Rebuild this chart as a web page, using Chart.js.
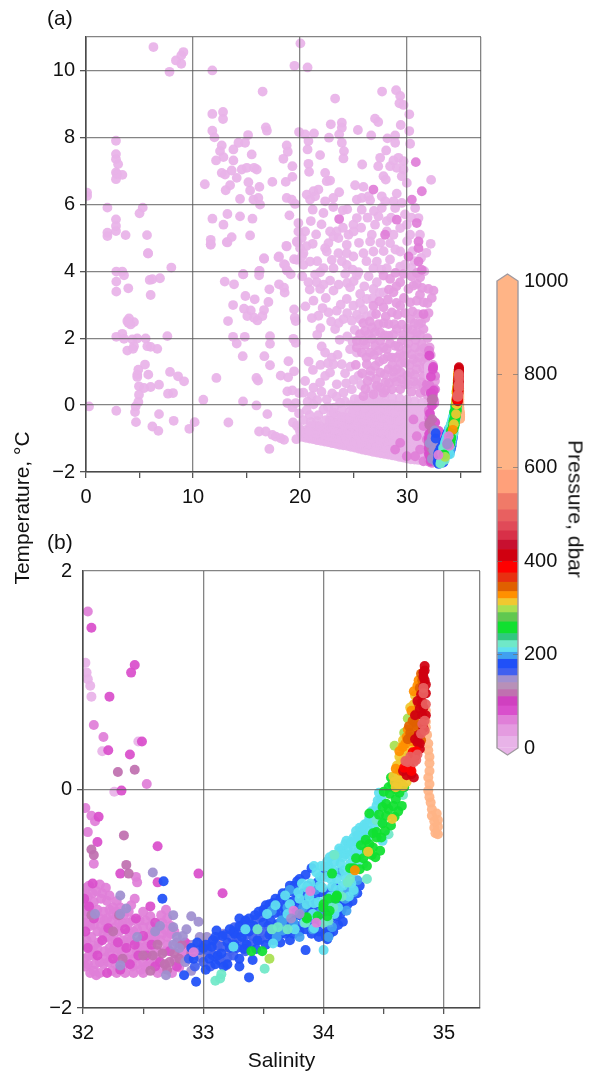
<!DOCTYPE html>
<html>
<head>
<meta charset="utf-8">
<title>T-S diagram</title>
<script src="https://cdn.jsdelivr.net/npm/chart.js@4/dist/chart.umd.min.js"></script>
<style>
  html, body { margin: 0; background: #fff; }
  #page { position: relative; width: 590px; height: 1074px; overflow: hidden; font-family: "Liberation Sans", sans-serif; color: #111; }
  canvas { position: absolute; }
  .lbl { position: absolute; font-size: 21px; white-space: nowrap; line-height: 1; }
  .rot { transform: translate(-50%, -50%) rotate(-90deg); }
  .rotr { transform: translate(-50%, -50%) rotate(90deg); }
</style>
</head>
<body>
<div id="page">
  <canvas id="panelA" width="490" height="520" style="left:0;top:0"></canvas>
  <canvas id="panelB" width="490" height="554" style="left:0;top:520px"></canvas>
  <canvas id="bar" width="100" height="510" style="left:490px;top:260px"></canvas>
  <div class="lbl" style="left:47px;top:7px">(a)</div>
  <div class="lbl" style="left:47px;top:531px">(b)</div>
  <div class="lbl rot" style="left:21px;top:508px">Temperature, °C</div>
  <div class="lbl rotr" style="left:576px;top:509px">Pressure, dbar</div>
</div>
<script>
// colour bar levels, pressure in dbar
const levelEdges = [0, 25, 50, 70, 90, 110, 125, 140, 155, 170, 190, 205, 215, 230, 245, 270, 290, 305, 320, 335, 355, 375, 400, 425, 445, 465, 485, 510, 545, 595, 1000];
const levelColors = ['#e8b3e8', '#e49be0', '#e07fd8', '#d94fcc', '#d040c0', '#c070b0', '#b890b8', '#a090d0', '#4060f0', '#2050f8',
  '#40a0f0', '#60e0f0', '#70e8c8', '#30c880', '#10e030', '#60c850', '#a8e050', '#f0c830', '#ff9000', '#e06000',
  '#e83010', '#ff0000', '#d00010', '#c81030', '#d83048', '#e04a58', '#e86060', '#f07a68', '#ffa07a', '#ffb486'];
const barTicks = [0, 200, 400, 600, 800, 1000];

// axis ticks, the last entry of each closes the frame
const aSalTicks = [0, 5, 10, 15, 20, 25, 30, 35, 36.9];
const aTempTicks = [-2, 0, 2, 4, 6, 8, 10, 11];
const bSalTicks = [32, 32.5, 33, 33.5, 34, 34.5, 35, 35.3];
const bTempTicks = [-2, 0, 2];

// panel (a) only: fresh water part, salinity / temperature
const aNorthWest = [[6.3,10.7],[9.1,10.55],[8.4,10.3],[8.9,10.2],[8.9,10.45],[7.8,9.96],[11.8,10],[16.5,9.37],[11.8,8.7],[12.8,8.76],[12.8,8.55],[16.8,8.3],[16.9,8.2],[11.8,8.2],[12,8],[2.8,7.9],[2.8,7.5],[2.8,7.35],[3,7.2],[2.8,6.95],[2.8,6.75],[3.4,6.88],[2.9,6.9],[0.1,6.35],[0.1,6.25],[2,5.9],[5.3,5.9],[5,5.73],[2.8,5.55],[2.8,5.35],[2.8,5.2],[2,5.15],[2,5.05],[3.7,5.08],[5.7,5.08],[5.8,4.53],[11.1,6.6]];
const aNorthEast = [[20.03,10.81],[19.47,10.14],[20.7,10.09],[23.27,9.16],[27.66,9.37],[28.97,9.41],[29.35,9.24],[29.28,9.02],[29.66,8.97],[30.2,8.69],[15.14,8.07],[14.86,7.84],[14.24,7.84],[13.77,7.64],[12.68,7.76],[12.52,7.59],[12.84,7.41],[12.15,7.31],[13.77,7.31],[15.48,7.49],[18.75,7.76],[18.85,7.57],[18.44,7.36],[19.28,7.14],[19.9,8.16],[20.47,8.09],[21.3,8.12],[20.78,7.89],[20.7,7.64],[21.87,7.47],[20.78,7.21],[20.84,6.97],[22.87,8.39],[23.9,8.44],[23.9,8.29],[23.65,8.09],[22.7,7.99],[23.9,7.84],[24.1,7.59],[24.05,7.37],[25.4,8.22],[27,8.56],[27.3,8.46],[26.64,8.06],[29.4,8.37],[30.2,8.19],[28.88,8.06],[28.16,7.97],[28.88,7.84],[30.28,7.81],[28.04,7.61],[27.48,7.39],[27.3,7.14],[25.8,7.19],[29.19,7.39],[28.72,7.31],[29.66,7.29],[28.41,7.14],[29.03,7.09],[29.66,7.04],[29.5,6.84],[29.97,6.64],[27.79,6.84],[28,6.74],[32.24,6.73]];
const aMiddleHigh = [[12.68,6.94],[12.99,6.89],[13.61,7.01],[14.08,6.79],[14.55,7.04],[15.02,7.09],[15.7,7.09],[15.95,7.04],[15.17,6.66],[16.2,6.52],[13.46,6.57],[13.05,6.42],[15.33,6.41],[17.41,6.67],[18.66,6.67],[19.28,6.82],[14.39,6.16],[15.64,6.14],[16.1,6.19],[16.26,5.99],[18.75,6.19],[19.22,6.14],[19.53,6.01],[20.62,6.29],[21.25,6.39],[21.71,6.44],[20.93,6.14],[21.4,6.24],[22.34,6.94],[22.49,6.69],[22.8,6.71],[23.65,6.36],[23.1,6.19],[22.34,6.09],[23.1,5.92],[25.14,6.57],[25.92,6.52],[25.3,6.14],[25.76,6.19],[26.39,6.24],[26.54,6.12],[27.63,6.24],[27.95,6.09],[29.03,6.32],[28.72,6.09],[29.5,6.04],[28.88,5.89],[27.63,5.89],[11.81,5.57],[13.21,5.71],[14.39,5.64],[15.55,5.57],[12.84,5.39],[15.33,5.07],[13.61,5.02],[13.15,4.87],[11.65,4.94],[11.65,4.79],[19,5.67],[21.18,5.84],[22.18,5.74],[23.99,5.82],[18.75,4.74],[16.64,4.37],[17.98,4.42],[19.84,5.44],[19.84,5.19],[20.16,4.99],[19.69,4.89],[20.47,5.19],[20,4.69],[20.31,4.54],[20.93,4.29],[19.69,4.34],[18.6,4.19],[18.75,4.04],[21.18,4.82],[22.8,5.19],[23.43,5.19],[23.12,5.04],[22.65,4.84],[23.58,4.99],[22.34,4.69],[22.49,4.59],[24.36,4.79],[24.52,5.09],[24.98,5.39],[25.3,5.59],[25.76,5.84],[25,5.19],[23.58,4.54],[24.36,4.54],[24.98,4.44],[25.92,4.54],[22.96,4.34],[26.7,5.09],[27,5.39],[26.54,4.89],[26.85,4.59],[27.32,5.64],[28.1,5.19],[28.72,5.09],[29.35,5.29],[29.97,5.39],[28.41,4.84],[29.35,4.59],[30.28,5.09],[31.06,5.59],[31.2,5.09],[32.2,4.82],[30.75,5.89],[22.18,4.09],[23.12,4.09],[24.36,4.19],[27.17,4.29],[28.1,4.09],[29.35,4.14],[26.85,4.09],[25.45,3.97],[14.7,3.91],[16.17,4],[20.31,4.19]];
const aFillHigh = [[27.8,4.6],[28.4,4.35],[28.9,4.65],[29.8,4.2],[30,4.9],[30.5,4.6],[29.8,5.7],[30.4,5.6],[28.1,5.5],[28.5,5.6],[27.5,4.85],[26.2,4.3],[25.5,4.85],[25.7,5.3],[26.3,5.6],[24,5.3],[23.9,4.3],[24.9,4.05],[27.6,4.05],[30.4,4.1],[30.7,4.3],[21,5.5],[21.5,5.1],[20.6,4.75],[21.6,4.3],[22,5.4],[24.4,5.85],[26.9,5.8],[31,3.95],[31.6,4],[31.3,4.4],[31.8,4.55]];
const aSouthWest = [[5.79,4.54],[7.97,4.11],[2.83,3.99],[3.39,3.99],[3.55,3.88],[2.83,3.69],[2.83,3.39],[3.95,3.49],[5.95,3.74],[6.2,3.76],[6.91,3.79],[6.04,3.29],[4.02,2.59],[3.95,2.46],[4.17,2.41],[4.48,2.48],[3.86,2.51],[2.83,2.04],[3.39,2.13],[3.55,1.98],[4.33,1.96],[4.79,1.99],[5.57,1.99],[4.48,1.76],[3.86,1.63],[4.39,1.68],[5.73,1.76],[6.04,1.74],[6.66,1.68],[7.6,2.06],[5.51,1.21],[4.89,1.06],[4.79,0.91],[4.79,0.84],[5.82,0.91],[4.95,0.56],[5.42,0.51],[6.04,0.54],[6.82,0.61],[4.95,0.31],[4.89,0.09],[7.85,0.99],[8.6,0.86],[9.16,0.71],[7.66,0.34],[8.13,0.36],[4.64,-0.04],[4.58,-0.21],[2.83,-0.17],[0.28,-0.04],[6.82,-0.27],[4.67,-0.51],[6.2,-0.64],[6.76,-0.77],[8.19,-0.47],[10.15,-0.51],[9.65,-0.71],[10.96,0.16],[12.18,0.81],[13.3,-0.52]];
const aSouthMid = [[14.67,0.11],[15.92,-0.01],[16.94,-0.27],[16.17,-0.79],[16.79,-0.79],[17.41,-0.89],[17.72,-0.94],[18.19,-0.99],[18.5,-1.04],[17.13,-1.31],[19.65,-1.02],[19.34,-0.52],[19.9,-0.69],[14.64,1.46],[16.66,1.46],[17.19,1.19],[18.91,1.31],[19.44,1.01],[18.19,0.88],[18.88,0.83],[15.92,0.81],[16.07,0.73],[18.81,0.41],[19.28,0.44],[19.9,0.36],[18.81,0.06],[19.28,-0.07],[19.59,0.06],[13.74,2.04],[14.83,2.04],[14.08,1.84],[17.19,2.06],[17.19,1.83],[19.37,1.98],[19.59,1.86],[13.27,2.51],[13.74,2.99],[14.89,3.26],[15.76,3.16],[17.04,3.08],[17.13,3.46],[14.76,2.88],[15.39,2.83],[15.07,2.66],[15.7,2.61],[16.01,2.53],[16.48,2.66],[16.63,2.84],[12.96,3.69],[13.83,3.61],[14.67,3.91],[16.23,4.01],[16.17,3.88],[16.63,4.39],[18.03,4.44],[18.5,4.21],[18.81,4.01],[19.12,3.91],[18.03,3.61],[18.5,3.51],[18.56,3.36],[19.44,2.86],[19.5,2.61],[19.59,2.51],[18.72,4.76],[19.75,4.86],[19.44,4.36],[20.2,4.46],[11.65,4.81],[13.21,4.86]];
const aBlobs = [[20.78,3.67],[21.56,3.67],[22.8,3.72],[21.87,3.47],[23.12,3.42],[21.25,3.12],[21.71,2.67],[22.65,2.77],[23.43,2.82],[24.05,2.57],[23.27,2.27],[24.83,2.52],[25.61,2.57],[24.67,3.52],[24.36,3.17],[25.61,3.32],[24.98,2.97],[26.23,3.17],[26.85,3.47],[27.79,3.37],[27.17,3.67],[25.3,3.87],[24.21,3.92],[21.87,3.97],[22.02,1.75],[22.34,1.57],[22.96,1.42],[23.12,1.22],[23.89,1.22],[24.67,1.67],[25.3,1.57],[25.45,0.87],[26.54,0.87],[26.7,0.52],[22.34,0.87],[21.87,0.67],[22.8,0.97],[23.43,0.62],[24.05,0.37],[21.25,0.52],[21.09,0.27],[20.47,0.72],[20.31,0.37],[22.49,0.17],[23.74,0.07],[24.83,0.47],[21.25,0.02],[22.18,-0.13],[21.56,-0.48],[20.93,-0.63],[20.47,-0.83],[23.12,-0.23]];
const aFillMid = [[20.2,3.85],[20.9,3.45],[21.4,3.9],[22.2,3.6],[22.4,3.2],[23.6,3.6],[23.8,3],[24.4,3.65],[25,3.7],[25.6,3.05],[26,3.55],[26.4,3.85],[26.8,3.2],[27.4,3.35],[20.5,2.95],[21.1,2.6],[22.1,2.9],[22.9,2.5],[23.6,2.45],[24.4,2.75],[25.1,2.25],[25.3,2.7],[25.9,2.85],[26.2,2.65],[26.7,2.7],[24.4,2.05],[24.9,1.9],[23.7,1.95],[21.6,2.1],[21.9,2.3],[20.8,1.3],[21.2,1.05],[21.9,1.2],[22.6,1.25],[23.5,1.5],[24.2,0.95],[24.7,1.15],[25,0.75],[24.3,0.65],[25.7,0.6],[23,0.35],[23.4,0.25],[22,0.4],[20.6,-0.15],[21.6,0.15],[20.7,0.1],[22.6,-0.05],[19.9,-0.25]];
const aSolidUpper = [[26.07,2.22],[26.7,2.32],[27.48,2.17],[25.3,1.92],[25.92,1.92],[26.7,1.97],[27.48,1.92],[28.26,2.07],[29.03,2.27],[28.26,2.42],[27.32,2.42],[25.76,1.57],[26.54,1.57],[27.32,1.62],[28.1,1.67],[28.88,1.77],[29.5,1.92],[30.28,2.07],[30.9,2.17],[31.53,2.27],[26.23,1.22],[27.01,1.17],[27.79,1.37],[28.57,1.42],[29.35,1.52],[29.97,1.67],[30.75,1.72],[31.37,1.82],[31.99,1.52],[27.48,0.97],[28.26,1.07],[29.03,1.07],[29.81,1.27],[30.59,1.37],[31.21,1.42],[31.84,1.17],[32.3,1.02],[27.17,0.57],[27.94,0.67],[28.72,0.82],[29.5,0.77],[30.28,0.97],[30.9,1.07],[31.53,0.87],[31.99,0.72],[25.92,0.27],[26.85,0.32],[27.79,0.37],[28.57,0.47],[29.35,0.47],[30.12,0.62],[30.9,0.62],[31.53,0.52],[32.15,0.37],[32.55,0.12],[27.79,2.92],[28.57,2.77],[29.35,2.97],[30.28,3.07],[30.9,3.12],[31.53,3.07],[31.99,3.47],[32.46,3.42],[30.59,3.57],[30.12,3.47],[29.35,3.67],[28.41,3.77],[27.79,3.87],[31.21,3.82],[29.66,3.92],[28.72,3.37],[26.85,2.97],[30.28,2.57],[31.06,2.42]];
const aSolidExtra = [[26.1,0.48],[28,0.44],[30.4,0.4],[31.2,0.36],[31.9,0.3],[32.4,0.25],[27.5,0.52],[26.3,0.72],[27.1,0.78],[28.3,0.66],[29,0.7],[29.8,0.62],[30.6,0.7],[31.3,0.68],[32,0.55],[32.5,0.5],[25.8,0.95],[26.6,1.02],[27.9,0.92],[28.7,1],[29.4,0.98],[30,0.88],[30.7,0.9],[31.5,1.1],[32.2,0.82],[32.6,0.72],[25.2,1.2],[27.4,1.3],[28.6,1.2],[29.4,1.25],[30.2,1.2],[30.9,1.28],[31.6,1.3],[32.4,1.2],[26.2,1.42],[26.9,1.5],[28.2,1.45],[29,1.42],[29.7,1.48],[30.4,1.52],[31.2,1.6],[31.8,1.42],[32.2,1.5],[25.3,1.72],[26.1,1.8],[27,1.78],[27.8,1.72],[28.4,1.85],[29.2,1.75],[30.1,1.85],[30.8,1.95],[31.6,1.7],[32.1,1.72],[25.6,2.12],[26.4,2.1],[27,2.18],[27.9,2.08],[28.7,2.1],[29.6,2.1],[30.5,2.25],[31.2,2.1],[31.9,2],[25.9,2.45],[26.5,2.5],[27.8,2.45],[28.8,2.42],[29.5,2.4],[30,2.3],[30.7,2.45],[31.3,2.45],[31.7,2.6],[27.1,2.72],[28,2.65],[29.1,2.7],[29.8,2.75],[30.5,2.8],[31,2.72],[32,2.75],[27.4,3.1],[28.2,3.15],[29,3.05],[29.7,3.2],[31.2,3.3],[31.9,3.05],[32.3,3.2],[28.3,3.45],[29,3.55],[30.9,3.62],[31.4,3.5],[30.4,3.85],[28.9,3.95],[30.9,3.95]];
const aSolidLower = [[20.2,-0.95],[20.9,-1],[21.6,-1.05],[22.3,-1.09],[23,-1.14],[23.7,-1.19],[24.4,-1.22],[25.1,-1.27],[25.8,-1.33],[26.5,-1.37],[27.2,-1.42],[27.9,-1.46],[28.6,-1.5],[29.3,-1.55],[30,-1.6],[30.7,-1.63],[31.4,-1.65],[32,-1.68],[20.5,-0.75],[21.2,-0.82],[21.9,-0.86],[22.6,-0.92],[23.3,-0.97],[24,-1.03],[24.7,-1.05],[25.4,-1.12],[26.1,-1.14],[26.8,-1.2],[27.5,-1.24],[28.2,-1.28],[28.9,-1.33],[29.6,-1.38],[30.3,-1.42],[31,-1.46],[31.7,-1.48],[21.5,-0.62],[22.2,-0.68],[22.9,-0.7],[23.6,-0.77],[24.3,-0.84],[25,-0.87],[25.7,-0.93],[26.4,-0.97],[27.1,-1.02],[27.8,-1.05],[28.5,-1.08],[29.2,-1.14],[29.9,-1.17],[30.6,-1.22],[31.3,-1.26],[32,-1.3],[22.4,-0.45],[23.1,-0.5],[23.8,-0.57],[24.5,-0.62],[25.2,-0.66],[25.9,-0.71],[26.6,-0.76],[27.3,-0.8],[28,-0.83],[28.7,-0.88],[29.4,-0.93],[30.1,-0.97],[30.8,-1.02],[31.5,-1.05],[22.9,-0.28],[23.5,-0.32],[24.2,-0.37],[24.9,-0.42],[25.6,-0.47],[26.3,-0.5],[27,-0.55],[27.7,-0.6],[28.4,-0.63],[29.1,-0.68],[29.8,-0.72],[30.5,-0.76],[31.2,-0.8],[31.9,-0.86],[24.6,-0.2],[25.3,-0.23],[26,-0.27],[26.7,-0.32],[27.4,-0.36],[28.1,-0.4],[28.8,-0.45],[29.5,-0.48],[30.2,-0.53],[30.9,-0.56],[31.6,-0.62],[23.2,-0.08],[23.9,-0.12],[25,-0.02],[25.7,-0.05],[26.4,-0.08],[27.1,-0.13],[27.8,-0.17],[28.5,-0.2],[29.2,-0.24],[29.9,-0.28],[30.6,-0.3],[31.3,-0.35],[32,-0.4],[24.2,0.1],[25.1,0.18],[26,0.14],[26.8,0.1],[27.5,0.07],[28.2,0.03],[28.9,0],[29.6,-0.05],[30.3,-0.08],[31,-0.12],[31.7,-0.16],[26.5,0.35],[27.2,0.3],[27.9,0.27],[28.6,0.22],[29.3,0.2],[30,0.16],[30.7,0.12],[31.4,0.08],[32,0.05],[20.3,-0.45],[21,-0.5],[19.7,-0.62],[20,-0.8],[20.9,-0.3],[21.7,-0.3]];
const aLowerFill = [[20.55,-0.98],[21.25,-1.02],[21.95,-1.07],[22.65,-1.11],[23.35,-1.16],[24.05,-1.2],[24.75,-1.25],[25.45,-1.3],[26.15,-1.35],[26.85,-1.4],[27.55,-1.44],[28.25,-1.48],[28.95,-1.52],[29.65,-1.57],[30.35,-1.62],[31.05,-1.64],[20.85,-0.78],[21.55,-0.84],[22.25,-0.89],[22.95,-0.95],[23.65,-1],[24.35,-1.04],[25.05,-1.09],[25.75,-1.13],[26.45,-1.17],[27.15,-1.22],[27.85,-1.26],[28.55,-1.3],[29.25,-1.36],[29.95,-1.4],[30.65,-1.44],[31.35,-1.47],[21.85,-0.64],[22.55,-0.69],[23.25,-0.74],[23.95,-0.8],[24.65,-0.85],[25.35,-0.9],[26.05,-0.95],[26.75,-1],[27.45,-1.03],[28.15,-1.07],[28.85,-1.11],[29.55,-1.15],[30.25,-1.2],[30.95,-1.24],[31.65,-1.28],[22.75,-0.47],[23.45,-0.54],[24.15,-0.6],[24.85,-0.64],[25.55,-0.69],[26.25,-0.74],[26.95,-0.78],[27.65,-0.82],[28.35,-0.86],[29.05,-0.9],[29.75,-0.95],[30.45,-1],[31.15,-1.03],[23.85,-0.35],[24.55,-0.4],[25.25,-0.45],[25.95,-0.48],[26.65,-0.53],[27.35,-0.58],[28.05,-0.62],[28.75,-0.66],[29.45,-0.7],[30.15,-0.74],[30.85,-0.78],[31.55,-0.83],[24.95,-0.22],[25.65,-0.25],[26.35,-0.3],[27.05,-0.34],[27.75,-0.38],[28.45,-0.43],[29.15,-0.46],[29.85,-0.5],[30.55,-0.54],[31.25,-0.59],[24.7,0],[25.35,-0.04],[26.05,-0.07],[26.75,-0.1],[27.45,-0.15],[28.15,-0.18],[28.85,-0.22],[29.55,-0.26],[30.25,-0.29],[30.95,-0.32],[31.65,-0.38],[25.5,0.16],[26.4,0.12],[27.15,0.08],[27.85,0.05],[28.55,0.02],[29.25,-0.02],[29.95,-0.06],[30.65,-0.1],[31.35,-0.14]];
const aDeeper = [[30.81,7.26],[31.37,6.39],[26.85,6.44],[30.44,6.14],[23.65,5.56],[29.03,5.54],[27.94,5.09],[30.9,5.44],[31.06,4.89],[30.13,4.44],[31.06,4.29],[31.37,4.04],[31.06,4.69],[31.53,2.72],[32.3,1.1],[32.62,0.87],[31.84,0.62],[32.62,0.47],[31.68,0.42],[30.59,-0.43],[31.53,-0.63],[32.15,-0.73],[32.77,-0.83],[30.9,-0.93],[31.84,-1.03],[32.62,-1.13],[31.21,-1.33],[31.99,-1.43],[30.75,-1.53],[31.53,-1.68],[32.31,-1.73],[32.77,-1.53],[29.35,-1.13],[29.97,-1.53],[28.88,-1.33]];

// seen in both panels, salinity / temperature, one list per pressure band
const pinkPale = [[32.02,1.16],[32.03,1.07],[32.04,1.01],[32.06,0.95],[32.07,0.85],[32.16,0.35],[32.46,0.44],[32.26,-0.02]];
const pinkLight = [[32.04,1.63],[32.09,0.59],[32.17,0.48],[32.53,0.05],[32.02,-0.17],[32.07,-0.24],[32.1,-0.29],[32.04,-0.39],[32.09,-0.68],[32.44,-0.8],[32.45,-0.85],[32.43,-1],[32.69,-1.1],[32.03,-0.9],[32.08,-0.95],[32.12,-1.1],[32.02,-1.15],[32.06,-1.25],[32.12,-1.3],[32.03,-1.38],[32.09,-1.43],[32.15,-1.25],[32.2,-1.35],[32.24,-1.2],[32.18,-1.48],[32.05,-1.52],[32.1,-1.6],[32.06,-1.68],[32.11,-1.7],[32.17,-1.6],[32.26,-1.45],[32.3,-1.3],[32.34,-1.15],[32.38,-1.22],[32.32,-1.5],[32.27,-1.6],[32.4,-1.38],[32.45,-1.28],[32.42,-1.55],[32.5,-1.45],[32.52,-1.2],[32.58,-1.3],[32.55,-1.6],[32.48,-1.65],[32.62,-1.48],[32.66,-1.22],[32.7,-1.35],[32.22,-1.1],[32.14,-0.87],[32.19,-0.9],[32.28,-1.02],[32,-0.95],[32.04,-0.98],[32,-1.08],[32.04,-1.12],[32.09,-1.03],[32.15,-1],[32.17,-1.12],[32.2,-1.02],[32.25,-1.08],[32.28,-1.12],[32.01,-1.22],[32.01,-1.42],[32.07,-1.35],[32.13,-1.4],[32.17,-1.32],[32.24,-1.38],[32.01,-1.55],[32.08,-1.52],[32.02,-1.62],[32.14,-1.58],[32.21,-1.58],[32.22,-1.45],[32.3,-1.22],[32.33,-1.38],[32.37,-1.37],[32.42,-1.3],[32.47,-1.2],[32.48,-1.38],[32.54,-1.38],[32.56,-1.25],[32.6,-1.35],[32.64,-1.38],[32.68,-1.28],[32.28,-1.52],[32.36,-1.55],[32.4,-1.5],[32.45,-1.6],[32.52,-1.62],[32.58,-1.6],[32.62,-1.68],[32.66,-1.64],[32.74,-1.68],[32.78,-1.4],[32.8,-1.63],[32.84,-1.5],[32.88,-1.42],[32.73,-1.25],[32.65,-1.15],[32.5,-1.12],[32.38,-1.12],[32.14,-1.68],[32.2,-1.18]];
const pinkStrong = [[32.07,1.48],[32.22,0.85],[32.43,1.14],[32.4,1.07],[32.49,0.44],[32.21,0.36],[32.39,0.32],[32.32,-0.01],[32.13,-0.25],[32.12,-0.48],[32.62,-0.52],[32.31,-0.77],[32.62,-0.85],[32.96,-0.77],[33.16,-0.95],[32.56,-1.07],[32.01,-1],[32.05,-1.07],[32.02,-1.3],[32.09,-1.18],[32.04,-1.45],[32.12,-1.52],[32.16,-1.38],[32.08,-0.86],[32.21,-1.27],[32.25,-1.55],[32.29,-1.4],[32.35,-1.28],[32.36,-1.45],[32.39,-1.6],[32.31,-1.65],[32.43,-1.42],[32.46,-1.52],[32.5,-1.34],[32.53,-1.52],[32.57,-1.42],[32.6,-1.62],[32.64,-1.58],[32.2,-1.68],[32.44,-1.18],[32.6,-1.22],[32.72,-1.48],[32.78,-1.62],[32.85,-1.4],[33,-1.42]];
const pinkFill = [[32.03,-1.04],[32.07,-1.11],[32.03,-1.22],[32.09,-1.24],[32.14,-1.18],[32.06,-1.46],[32.12,-1.46],[32.04,-1.6],[32.09,-1.66],[32.18,-1.2],[32.19,-1.28],[32.23,-1.3],[32.25,-1.14],[32.31,-1.08],[32.33,-1.22],[32.27,-1.26],[32.22,-1.5],[32.19,-1.54],[32.27,-1.38],[32.3,-1.46],[32.34,-1.44],[32.38,-1.3],[32.41,-1.2],[32.46,-1.44],[32.5,-1.26],[32.55,-1.33],[32.53,-1.44],[32.58,-1.38],[32.62,-1.27],[32.66,-1.32],[32.7,-1.42],[32.73,-1.32],[32.35,-1.6],[32.41,-1.62],[32.45,-1.48],[32.5,-1.58],[32.56,-1.48],[32.61,-1.55],[32.68,-1.48],[32.76,-1.56],[32.82,-1.48],[32.24,-1.66],[32.28,-1.68],[32.35,-1.68],[32.42,-1.68],[32.5,-1.68],[32.16,-0.95],[32.22,-0.97],[32.11,-0.93],[32.05,-0.88],[32.28,-1.16],[32.4,-1.06],[32.56,-1.16],[32.7,-1.18],[32.76,-1.3],[32.84,-1.55]];
const pinkRose = [[32.29,0.16],[32.43,0.18],[32.07,-0.55],[32.09,-0.6],[32.36,-0.69],[32.38,-0.77],[32.34,-0.42],[32.07,-1.15],[32.3,-1.15],[32.33,-1.55],[32.5,-1.52],[32.58,-1.52],[32.62,-1.42],[32.66,-1.5],[32.68,-1.6],[32.72,-1.58],[32.76,-1.5],[32.8,-1.55],[32.56,-1.66],[32.7,-1.65],[32.82,-1.42],[32.9,-1.5],[32.25,-1.3]];
const greyViolet = [[32.31,-0.97],[32.58,-0.76],[32.9,-1.16],[32.96,-1.21],[32.75,-1.15],[32.1,-1.14],[32.31,-1.14],[32.36,-1.09],[32.64,-1.25],[32.86,-1.28],[32.83,-1.34],[32.97,-1.35],[33.03,-1.35],[33.08,-1.44],[33.05,-1.5],[32.98,-1.54],[32.9,-1.66],[32.69,-1.7],[32.31,-1.61],[33.17,-1.32],[33.22,-1.48],[33.19,-1.61],[32.78,-1.35],[32.75,-1.26],[32.8,-1.45],[32.85,-1.58],[32.92,-1.42],[32.95,-1.52],[33,-1.5],[33.05,-1.42],[33.12,-1.38],[33.15,-1.58],[32.75,-1.42],[32.6,-1.3],[32.45,-1.35]];
const blueViolet = [[33.26,-1.26],[33.3,-1.31],[33.33,-1.24],[33.36,-1.33],[33.39,-1.24],[33.41,-1.34],[33.44,-1.19],[33.46,-1.29],[33.48,-1.17],[33.5,-1.31],[33.53,-1.13],[33.54,-1.25],[33.57,-1.11],[33.28,-1.37],[33.34,-1.4],[33.4,-1.41],[33.47,-1.38],[33.53,-1.36],[33.59,-1.27],[33.62,-1.07],[33.65,-1.14],[33.24,-1.36],[33.18,-1.33],[33.12,-1.43],[33.16,-1.44],[33.08,-1.52],[33.13,-1.56],[33.03,-1.47],[32.97,-1.47],[32.93,-1.62],[32.88,-1.55],[33,-1.58],[33.06,-1.62],[33.2,-1.54],[33.25,-1.52],[33.35,-1.48]];
const blueDeep = [[32.67,-0.84],[32.66,-1],[33.11,-1.29],[33.26,-1.32],[33.07,-1.44],[33.3,-1.62],[33.38,-1.72],[33.85,-1.47],[32.84,-1.7],[32.94,-1.76],[33.41,-1.56],[34.16,-1.21],[33.25,-1.3],[33.3,-1.25],[33.35,-1.2],[33.32,-1.35],[33.38,-1.3],[33.43,-1.15],[33.42,-1.25],[33.45,-1.38],[33.5,-1.1],[33.5,-1.22],[33.55,-1.05],[33.56,-1.2],[33.6,-1],[33.6,-1.13],[33.62,-1.32],[33.66,-0.95],[33.67,-1.08],[33.7,-1.22],[33.72,-0.88],[33.75,-1.02],[33.78,-0.84],[33.8,-1.15],[33.83,-0.95],[33.85,-0.78],[33.9,-0.72],[33.9,-1.05],[33.95,-0.85],[33.97,-1.2],[34,-0.78],[34.03,-1.3],[34.02,-1.35],[34.05,-1.02],[34.1,-0.9],[34.15,-1.1],[33.28,-1.45],[33.36,-1.42],[33.3,-1.55],[33.2,-1.4],[33.15,-1.5],[33.1,-1.35],[33.05,-1.55],[33,-1.45],[32.95,-1.4],[32.92,-1.55],[33.1,-1.6],[33.02,-1.65],[33.17,-1.62],[32.9,-1.45],[33.22,-1.28],[33.58,-1.38],[33.72,-1.38],[33.85,-1.28],[33.62,-1.23],[33.68,-1.15],[33.7,-1.02],[33.74,-1.12],[33.76,-0.94],[33.78,-1.25],[33.82,-1.03],[33.84,-1.2],[33.87,-0.88],[33.88,-1.12],[33.9,-1.32],[33.93,-0.98],[33.95,-1.12],[33.98,-0.94],[34,-1.22],[34.02,-1.12],[34.03,-0.94],[34.06,-1.18],[34.08,-1.04],[34.11,-1.16],[34.13,-1.03],[34.17,-1.02],[34.03,-1.37],[34.01,-1.32],[34.05,-1.32],[33.96,-1.3],[33.8,-1.3],[33.75,-1.32],[33.68,-1.32],[33.64,-1.4],[33.55,-1.33],[33.3,-1.18],[33.38,-1.18],[33.46,-1.12],[33.52,-1.06],[33.58,-1.04],[33.64,-1],[33.7,-0.94],[33.76,-0.88],[33.8,-0.82],[33.34,-1.46],[33.44,-1.46],[33.52,-1.42],[33.58,-1.32],[33.64,-1.32],[33.7,-1.3],[33.74,-1.2],[33.78,-1.06],[33.86,-1.02],[33.88,-1.24],[33.93,-1.22],[33.96,-1.35],[34.08,-1.3],[34.12,-1.24],[34.14,-1.14],[34.2,-1.05],[34.24,-1.02],[34.28,-0.95],[34.3,-0.88],[33.16,-1.34],[33.08,-1.38],[33.02,-1.42],[33.22,-1.45],[33.26,-1.42],[33.12,-1.52],[33.2,-1.6]];
const blueSky = [[34.13,-0.76],[33.93,-0.92],[34.18,-1],[34.25,-0.94],[34.28,-0.83],[34.07,-1.26],[33.66,-1.2],[33.8,-1.35],[33.61,-1.35],[33.91,-1.28],[33.83,-1.08],[33.72,-0.92],[34.04,-1.35],[34.19,-1.11],[33.57,-1.11],[33.66,-1.29],[33.65,-1.2],[34.16,-0.95],[34.22,-0.9],[34.1,-1.1],[33.98,-1.12],[33.88,-1.18],[33.75,-1.22],[33.7,-1.08]];
const cyanBright = [[34.19,-0.47],[34.25,-0.44],[34.3,-0.35],[34.36,-0.31],[34.14,-0.56],[34.05,-0.62],[34.25,-0.53],[34.18,-0.59],[34.3,-0.47],[34.38,-0.38],[34.29,-0.56],[34.22,-0.68],[34.01,-0.71],[33.97,-0.8],[33.89,-0.86],[34.08,-0.74],[34.14,-0.68],[34.49,-0.47],[34.48,-0.3],[34.48,-0.09],[34.33,-0.42],[34.41,-0.28],[33.68,-0.97],[33.76,-1.28],[33.91,-1.14],[34.07,-0.89],[34.09,-1.14],[34.25,-0.92],[34.12,-1.08],[34,-1.47],[33.35,-1.28],[33.53,-1.14],[33.92,-1.04],[33.58,-1.41],[33.25,-1.44],[33.92,-1.27],[33.72,-1.05],[33.79,-0.94],[33.86,-0.9],[33.88,-0.98],[33.94,-0.76],[33.99,-0.9],[34.02,-0.8],[34.04,-0.7],[34.09,-0.66],[34.11,-0.82],[34.16,-0.62],[34.17,-0.74],[34.2,-0.54],[34.22,-0.6],[34.24,-0.76],[34.27,-0.48],[34.28,-0.66],[34.31,-0.4],[34.32,-0.58],[34.34,-0.32],[34.36,-0.45],[34.4,-0.2],[34.42,-0.36],[34.44,-0.15],[34.46,-0.03],[33.84,-1.22],[33.96,-1.03],[34.06,-0.98],[34.16,-0.88],[34.21,-0.98],[33.6,-1.06],[33.7,-1.14],[33.82,-0.86],[33.92,-0.7],[34.12,-0.6],[34.28,-0.42],[33.98,-0.7],[34.03,-0.66],[34.08,-0.6],[34.13,-0.54],[34.18,-0.5],[34.23,-0.48],[34.27,-0.38],[34.33,-0.35],[34.38,-0.26],[34.42,-0.2],[34.45,-0.1],[34.3,-0.6],[34.26,-0.6],[34.23,-0.86],[34.18,-0.8],[34.12,-0.92],[34.06,-0.82],[34.03,-1.05],[33.97,-0.88],[33.86,-1.05],[33.8,-1]];
const aquaSea = [[33.1,-1.75],[33.14,-1.73],[33.51,-1.64],[33.15,-1.69],[34.36,-0.82],[34.09,-0.6],[34.22,-0.82],[34.04,-1.2],[34.44,-0.28],[34.54,-0.41],[34.66,-0.05],[34.33,-0.68],[34.01,-1.02],[34,-1.22],[34.08,-1.08],[34.15,-0.98],[34.2,-0.85],[33.85,-1.22],[33.7,-1.28],[33.57,-1.28],[33.62,-1.26],[33.45,-1.28]];
const greenBright = [[33.4,-1.48],[33.49,-1.48],[34.38,-0.22],[34.44,-0.39],[34.49,-0.31],[34.56,-0.33],[34.59,-0.25],[34.65,-0.15],[34.52,-0.13],[34.55,-0.04],[34.6,-0.09],[34.49,-0.16],[34.54,0.02],[34.41,-0.53],[34.47,-0.56],[34.38,-0.5],[34.31,-0.51],[34.33,-0.63],[34.43,-0.62],[34.36,-0.56],[34.44,-0.44],[34.51,-0.38],[34.3,-0.73],[34.11,-0.98],[33.997,-1.08],[34.05,-1.11],[34.07,-0.77],[33.86,-1.18],[34.67,0.02],[34.6,0],[34.11,-0.97],[34,-1.05],[33.86,-1.17],[34.48,-0.44],[34.52,-0.24],[34.54,-0.18],[34.58,-0.15],[34.62,-0.2],[34.63,-0.03],[34.57,0.05],[34.5,-0.02],[34.46,-0.23],[34.41,-0.4],[34.36,-0.7],[34.4,-0.6],[34.35,-0.46],[34.27,-0.63],[34.25,-0.72],[34.22,-0.72],[34.56,0.11],[34.62,0.1],[34.04,-1],[34.03,-1.16],[34.1,-1],[33.95,-1.16]];
const limePale = [[34.59,0.4],[33.55,-1.55],[34.7,0.65],[34.67,0.52]];
const yellowWarm = [[34.37,-0.57],[34.57,-0.27],[34.59,0.07],[34.65,0.1],[34.69,0.07],[34.62,0.05],[34.65,0.13],[34.61,0.22],[34.63,0.3],[34.74,0.37],[34.76,0.86],[34.65,0.39],[34.58,0.12],[34.6,0.02],[34.66,0.03],[34.62,0.14],[34.67,0.2],[34.64,0.24],[34.7,0.17],[34.68,0.33],[34.71,0.31],[34.66,0.45],[34.72,0.75],[34.75,0.78]];
const orangeBright = [[34.26,-0.74],[34.6,0.19],[34.66,0.39],[34.69,0.48],[34.78,0.95],[34.72,0.27],[34.64,0.17],[34.63,0.35],[34.68,0.42],[34.7,0.55],[34.73,0.72],[34.75,0.9],[34.79,1],[34.76,0.57],[34.74,0.44]];
const orangeDark = [[34.72,0.52],[34.74,0.63],[34.77,0.69],[34.81,1.06],[34.81,0.45],[34.7,0.46],[34.71,0.58],[34.76,0.62],[34.79,0.78],[34.8,0.93],[34.82,1],[34.78,0.58],[34.73,0.48]];
const redCrimson = [[34.84,1.13],[34.83,1.07],[34.84,1],[34.83,0.94],[34.82,0.8],[34.8,0.74],[34.76,0.68],[34.76,0.46],[34.8,0.37],[34.69,0.2],[34.73,0.14],[34.84,1.09],[34.83,1.03],[34.85,0.96],[34.85,0.88],[34.81,0.87],[34.83,0.75],[34.78,0.81],[34.85,0.68],[34.82,0.68],[34.79,0.5],[34.78,0.43],[34.76,0.3],[34.72,0.2],[34.69,0.13],[34.66,0.17],[34.75,0.11],[34.8,0.42],[34.83,0.56]];
const redPure = [[34.77,0.35],[34.74,0.34],[34.73,0.17],[34.67,0.2]];
const coralSoft = [[34.83,0.88],[34.84,0.63],[34.81,0.51],[34.7,0.25],[34.77,0.27],[34.85,0.78],[34.83,0.93],[34.82,0.6],[34.84,0.54],[34.72,0.3],[34.75,0.25],[34.68,0.26],[34.78,0.32]];
const peachDeep = [[34.85,0.57],[34.87,0.42],[34.88,0.3],[34.88,0.17],[34.88,0.05],[34.88,-0.07],[34.9,-0.18],[34.95,-0.28],[34.92,-0.35],[34.95,-0.41],[34.85,0.72],[34.84,0.66],[34.85,0.62],[34.86,0.5],[34.87,0.36],[34.88,0.24],[34.87,0.11],[34.87,-0.01],[34.89,-0.12],[34.9,-0.24],[34.94,-0.22],[34.95,-0.34],[34.93,-0.4],[34.92,-0.29]];
const pinkStray = [[33.75,-1.11],[33.89,-0.93],[33.94,-1.22],[32.92,-1.49]];
const greyStray = [[33.73,-1.18],[33.8,-1.14]];

const sharedGroups = [[700, peachDeep], [10, pinkPale], [60, pinkLight], [60, pinkFill], [85, pinkStrong], [115, pinkRose], [147, greyViolet],
  [160, blueViolet], [180, blueDeep], [198, blueSky], [210, cyanBright], [222, aquaSea], [258, greenBright], [298, limePale], [312, yellowWarm],
  [328, orangeBright], [345, orangeDark], [410, redCrimson], [388, redPure], [495, coralSoft], [60, pinkStray], [147, greyStray]];
const freshGroups = [[10, aNorthWest], [10, aNorthEast], [10, aMiddleHigh], [10, aFillHigh], [10, aSouthWest], [10, aSouthMid], [10, aBlobs], [10, aFillMid],
  [10, aSolidLower], [10, aLowerFill], [35, aSolidExtra], [35, aSolidUpper], [60, aDeeper]];

const fontName = '"Liberation Sans", Arial, sans-serif';
const dotRadiusA = 4.9;
const dotRadiusB = 5;

function colorForPressure(p) {
    for (let i = 0; i < levelColors.length; i++) {
        if (p < levelEdges[i + 1]) return levelColors[i];
    }
    return levelColors[levelColors.length - 1];
}

function buildDatasets(groups, radius) {
    return groups.map(function (g, i) {
        return {
            data: g[1].map(function (d) { return { x: d[0], y: d[1] }; }),
            backgroundColor: colorForPressure(g[0]) + 'ee',
            borderWidth: 0,
            pointRadius: radius,
            pointHoverRadius: radius,
            order: -i
        };
    });
}

// ticks come from the arrays above; minor ones carry no label or grid line
function axisConfig(ticks, labelled, position, size, extra) {
    const last = ticks[ticks.length - 1];
    return Object.assign({
        type: 'linear',
        position: position,
        min: ticks[0],
        max: last,
        afterBuildTicks: function (scale) {
            scale.ticks = ticks.map(function (v) { return { value: v }; });
        },
        afterFit: function (scale) {
            if (position === 'left') scale.width = size; else scale.height = size;
        },
        grid: {
            z: 1,
            lineWidth: 1.3,
            tickLength: 6,
            color: function (c) {
                return c.tick && labelled.concat(last).includes(c.tick.value) ? 'rgba(85,85,85,0.72)' : 'rgba(0,0,0,0)';
            },
            tickColor: function (c) {
                return c.tick && c.tick.value === last ? 'rgba(0,0,0,0)' : '#555';
            }
        },
        border: { color: '#4a4a4a', width: 1.6, z: 2 },
        ticks: {
            autoSkip: false,
            maxRotation: 0,
            padding: position === 'left' ? 5 : 7,
            color: '#111',
            font: { family: fontName, size: 20 },
            callback: function (v) {
                return labelled.includes(v) ? String(v).replace('-', '\u2212') : '';
            }
        }
    }, extra || {});
}

function panelOptions(xAxis, yAxis, padding) {
    return {
        responsive: false,
        animation: false,
        layout: { padding: padding },
        plugins: { legend: { display: false }, tooltip: { enabled: false } },
        scales: { x: xAxis, y: yAxis }
    };
}

new Chart(document.getElementById('panelA'), {
    type: 'scatter',
    data: { datasets: buildDatasets(freshGroups.concat(sharedGroups), dotRadiusA) },
    options: panelOptions(
        axisConfig(aSalTicks, [0, 10, 20, 30], 'bottom', 48),
        axisConfig(aTempTicks, [-2, 0, 2, 4, 6, 8, 10], 'left', 86),
        { top: 37, right: 9 }
    )
});

new Chart(document.getElementById('panelB'), {
    type: 'scatter',
    data: { datasets: buildDatasets(sharedGroups, dotRadiusB) },
    options: panelOptions(
        axisConfig(bSalTicks, [32, 33, 34, 35], 'bottom', 66, {
            title: { display: true, text: 'Salinity', color: '#111', font: { family: fontName, size: 21 }, padding: { top: 8, bottom: 0 } }
        }),
        axisConfig(bTempTicks, bTempTicks, 'left', 83),
        { top: 51, right: 10 }
    )
});

// outline and the two end caps of the colour bar
const barFrame = {
    id: 'barFrame',
    afterDatasetsDraw: function (chart) {
        const y = chart.scales.y, a = chart.chartArea, c = chart.ctx;
        const mid = (a.left + a.right) / 2, capSize = 15;
        const y0 = y.getPixelForValue(levelEdges[0]), y1 = y.getPixelForValue(levelEdges[levelEdges.length - 1]);
        c.save();
        c.fillStyle = levelColors[levelColors.length - 1];
        c.beginPath(); c.moveTo(a.left, y1); c.lineTo(mid, y.getPixelForValue(1000 + capSize)); c.lineTo(a.right, y1); c.closePath(); c.fill();
        c.fillStyle = levelColors[0];
        c.beginPath(); c.moveTo(a.left, y0); c.lineTo(mid, y.getPixelForValue(-capSize)); c.lineTo(a.right, y0); c.closePath(); c.fill();
        c.strokeStyle = '#a09aa0';
        c.lineWidth = 1.4;
        c.beginPath();
        c.moveTo(a.left, y1); c.lineTo(mid, y.getPixelForValue(1000 + capSize)); c.lineTo(a.right, y1);
        c.lineTo(a.right, y0); c.lineTo(mid, y.getPixelForValue(-capSize)); c.lineTo(a.left, y0);
        c.closePath(); c.stroke();
        c.restore();
    }
};

new Chart(document.getElementById('bar'), {
    type: 'bar',
    data: {
        labels: ['Pressure'],
        datasets: levelColors.map(function (col, i) {
            return {
                data: [levelEdges[i + 1] - levelEdges[i]],
                backgroundColor: col,
                borderWidth: 0,
                barPercentage: 1,
                categoryPercentage: 1,
                stack: 'levels'
            };
        })
    },
    plugins: [barFrame],
    options: {
        responsive: false,
        animation: false,
        layout: { padding: { left: 7, top: 21, bottom: 22 } },
        plugins: { legend: { display: false }, tooltip: { enabled: false } },
        scales: {
            x: { display: false, stacked: true },
            y: {
                position: 'right',
                stacked: true,
                min: 0,
                max: 1000,
                afterBuildTicks: function (scale) {
                    scale.ticks = barTicks.map(function (v) { return { value: v }; });
                },
                afterFit: function (scale) { scale.width = 72; },
                grid: { z: 1, drawTicks: false, lineWidth: 1, color: function (c) {
                    return c.tick && c.tick.value > 0 && c.tick.value < 1000 ? 'rgba(110,110,110,0.65)' : 'rgba(0,0,0,0)';
                } },
                border: { display: false, dash: [5, 11, 5] },
                ticks: { padding: 6, color: '#111', font: { family: fontName, size: 20 }, callback: function (v) { return String(v); } }
            }
        }
    }
});
</script>
</body>
</html>
